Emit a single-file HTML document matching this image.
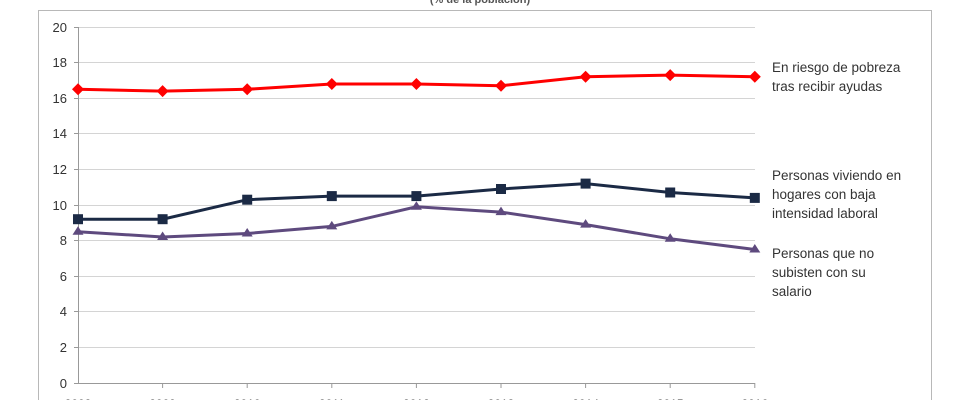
<!DOCTYPE html>
<html><head><meta charset="utf-8"><style>
html,body{margin:0;padding:0;background:#fff;}
svg{display:block;font-family:"Liberation Sans",sans-serif;}
</style></head><body>
<svg width="960" height="400" viewBox="0 0 960 400">
<rect x="38.5" y="10.5" width="893" height="400" fill="none" stroke="#b8b8b8" stroke-width="1"/>
<text x="480" y="3" text-anchor="middle" font-size="11" font-weight="bold" fill="#555">(% de la población)</text>
<g stroke="#d4d4d4" stroke-width="1">
<line x1="78" x2="755" y1="27.5" y2="27.5"/><line x1="78" x2="755" y1="62.5" y2="62.5"/>
<line x1="78" x2="755" y1="98.5" y2="98.5"/><line x1="78" x2="755" y1="133.5" y2="133.5"/>
<line x1="78" x2="755" y1="169.5" y2="169.5"/><line x1="78" x2="755" y1="205.5" y2="205.5"/>
<line x1="78" x2="755" y1="240.5" y2="240.5"/><line x1="78" x2="755" y1="276.5" y2="276.5"/>
<line x1="78" x2="755" y1="311.5" y2="311.5"/><line x1="78" x2="755" y1="347.5" y2="347.5"/>
</g>
<g stroke="#999" stroke-width="1">
<line x1="78.5" y1="27" x2="78.5" y2="383"/><line x1="74" y1="383.5" x2="755" y2="383.5"/>
<line x1="74" x2="78" y1="27.5" y2="27.5"/><line x1="74" x2="78" y1="62.5" y2="62.5"/><line x1="74" x2="78" y1="98.5" y2="98.5"/><line x1="74" x2="78" y1="133.5" y2="133.5"/><line x1="74" x2="78" y1="169.5" y2="169.5"/><line x1="74" x2="78" y1="205.5" y2="205.5"/><line x1="74" x2="78" y1="240.5" y2="240.5"/><line x1="74" x2="78" y1="276.5" y2="276.5"/><line x1="74" x2="78" y1="311.5" y2="311.5"/><line x1="74" x2="78" y1="347.5" y2="347.5"/>
<line x1="162.6" x2="162.6" y1="383" y2="388"/><line x1="247.2" x2="247.2" y1="383" y2="388"/><line x1="331.8" x2="331.8" y1="383" y2="388"/><line x1="416.4" x2="416.4" y1="383" y2="388"/><line x1="501" x2="501" y1="383" y2="388"/><line x1="585.6" x2="585.6" y1="383" y2="388"/><line x1="670.2" x2="670.2" y1="383" y2="388"/><line x1="754.8" x2="754.8" y1="383" y2="388"/>
</g>
<g font-size="13" fill="#333" text-anchor="end">
<text x="67" y="32">20</text><text x="67" y="67">18</text><text x="67" y="103">16</text><text x="67" y="138">14</text><text x="67" y="174">12</text><text x="67" y="210">10</text><text x="67" y="245">8</text><text x="67" y="281">6</text><text x="67" y="316">4</text><text x="67" y="352">2</text><text x="67" y="388">0</text>
</g>
<g font-size="12" fill="#333" text-anchor="middle">
<text x="78" y="408">2008</text><text x="162.6" y="408">2009</text><text x="247.2" y="408">2010</text><text x="331.8" y="408">2011</text><text x="416.4" y="408">2012</text><text x="501" y="408">2013</text><text x="585.6" y="408">2014</text><text x="670.2" y="408">2015</text><text x="754.8" y="408">2016</text>
</g>
<polyline fill="none" stroke="#f00" stroke-width="3" points="78,89.3 162.6,91.1 247.2,89.3 331.8,84 416.4,84 501,85.7 585.6,76.8 670.2,75.1 754.8,76.8"/>
<g fill="#f00">
<path d="M78,83.3l6,6l-6,6l-6,-6z"/><path d="M162.6,85.1l6,6l-6,6l-6,-6z"/><path d="M247.2,83.3l6,6l-6,6l-6,-6z"/><path d="M331.8,78l6,6l-6,6l-6,-6z"/><path d="M416.4,78l6,6l-6,6l-6,-6z"/><path d="M501,79.7l6,6l-6,6l-6,-6z"/><path d="M585.6,70.8l6,6l-6,6l-6,-6z"/><path d="M670.2,69.1l6,6l-6,6l-6,-6z"/><path d="M754.8,70.8l6,6l-6,6l-6,-6z"/>
</g>
<polyline fill="none" stroke="#1b2a45" stroke-width="3" points="78,219.2 162.6,219.2 247.2,199.7 331.8,196.1 416.4,196.1 501,189 585.6,183.6 670.2,192.5 754.8,197.9"/>
<g fill="#1b2a45">
<rect x="73" y="214.2" width="10" height="10"/><rect x="157.6" y="214.2" width="10" height="10"/><rect x="242.2" y="194.7" width="10" height="10"/><rect x="326.8" y="191.1" width="10" height="10"/><rect x="411.4" y="191.1" width="10" height="10"/><rect x="496" y="184" width="10" height="10"/><rect x="580.6" y="178.6" width="10" height="10"/><rect x="665.2" y="187.5" width="10" height="10"/><rect x="749.8" y="192.9" width="10" height="10"/>
</g>
<polyline fill="none" stroke="#5e4a7e" stroke-width="3" points="78,231.7 162.6,237 247.2,233.5 331.8,226.4 416.4,206.8 501,212.1 585.6,224.6 670.2,238.8 754.8,249.5"/>
<g fill="#5e4a7e">
<path d="M78,226.2l5.5,8.5h-11z"/><path d="M162.6,231.5l5.5,8.5h-11z"/><path d="M247.2,228l5.5,8.5h-11z"/><path d="M331.8,220.9l5.5,8.5h-11z"/><path d="M416.4,201.3l5.5,8.5h-11z"/><path d="M501,206.6l5.5,8.5h-11z"/><path d="M585.6,219.1l5.5,8.5h-11z"/><path d="M670.2,233.3l5.5,8.5h-11z"/><path d="M754.8,244l5.5,8.5h-11z"/>
</g>
<g font-size="13.5" fill="#333">
<text x="772" y="72">En riesgo de pobreza</text><text x="772" y="91">tras recibir ayudas</text>
<text x="772" y="180">Personas viviendo en</text><text x="772" y="199">hogares con baja</text><text x="772" y="218">intensidad laboral</text>
<text x="772" y="258">Personas que no</text><text x="772" y="277">subisten con su</text><text x="772" y="296">salario</text>
</g>
</svg>
</body></html>
